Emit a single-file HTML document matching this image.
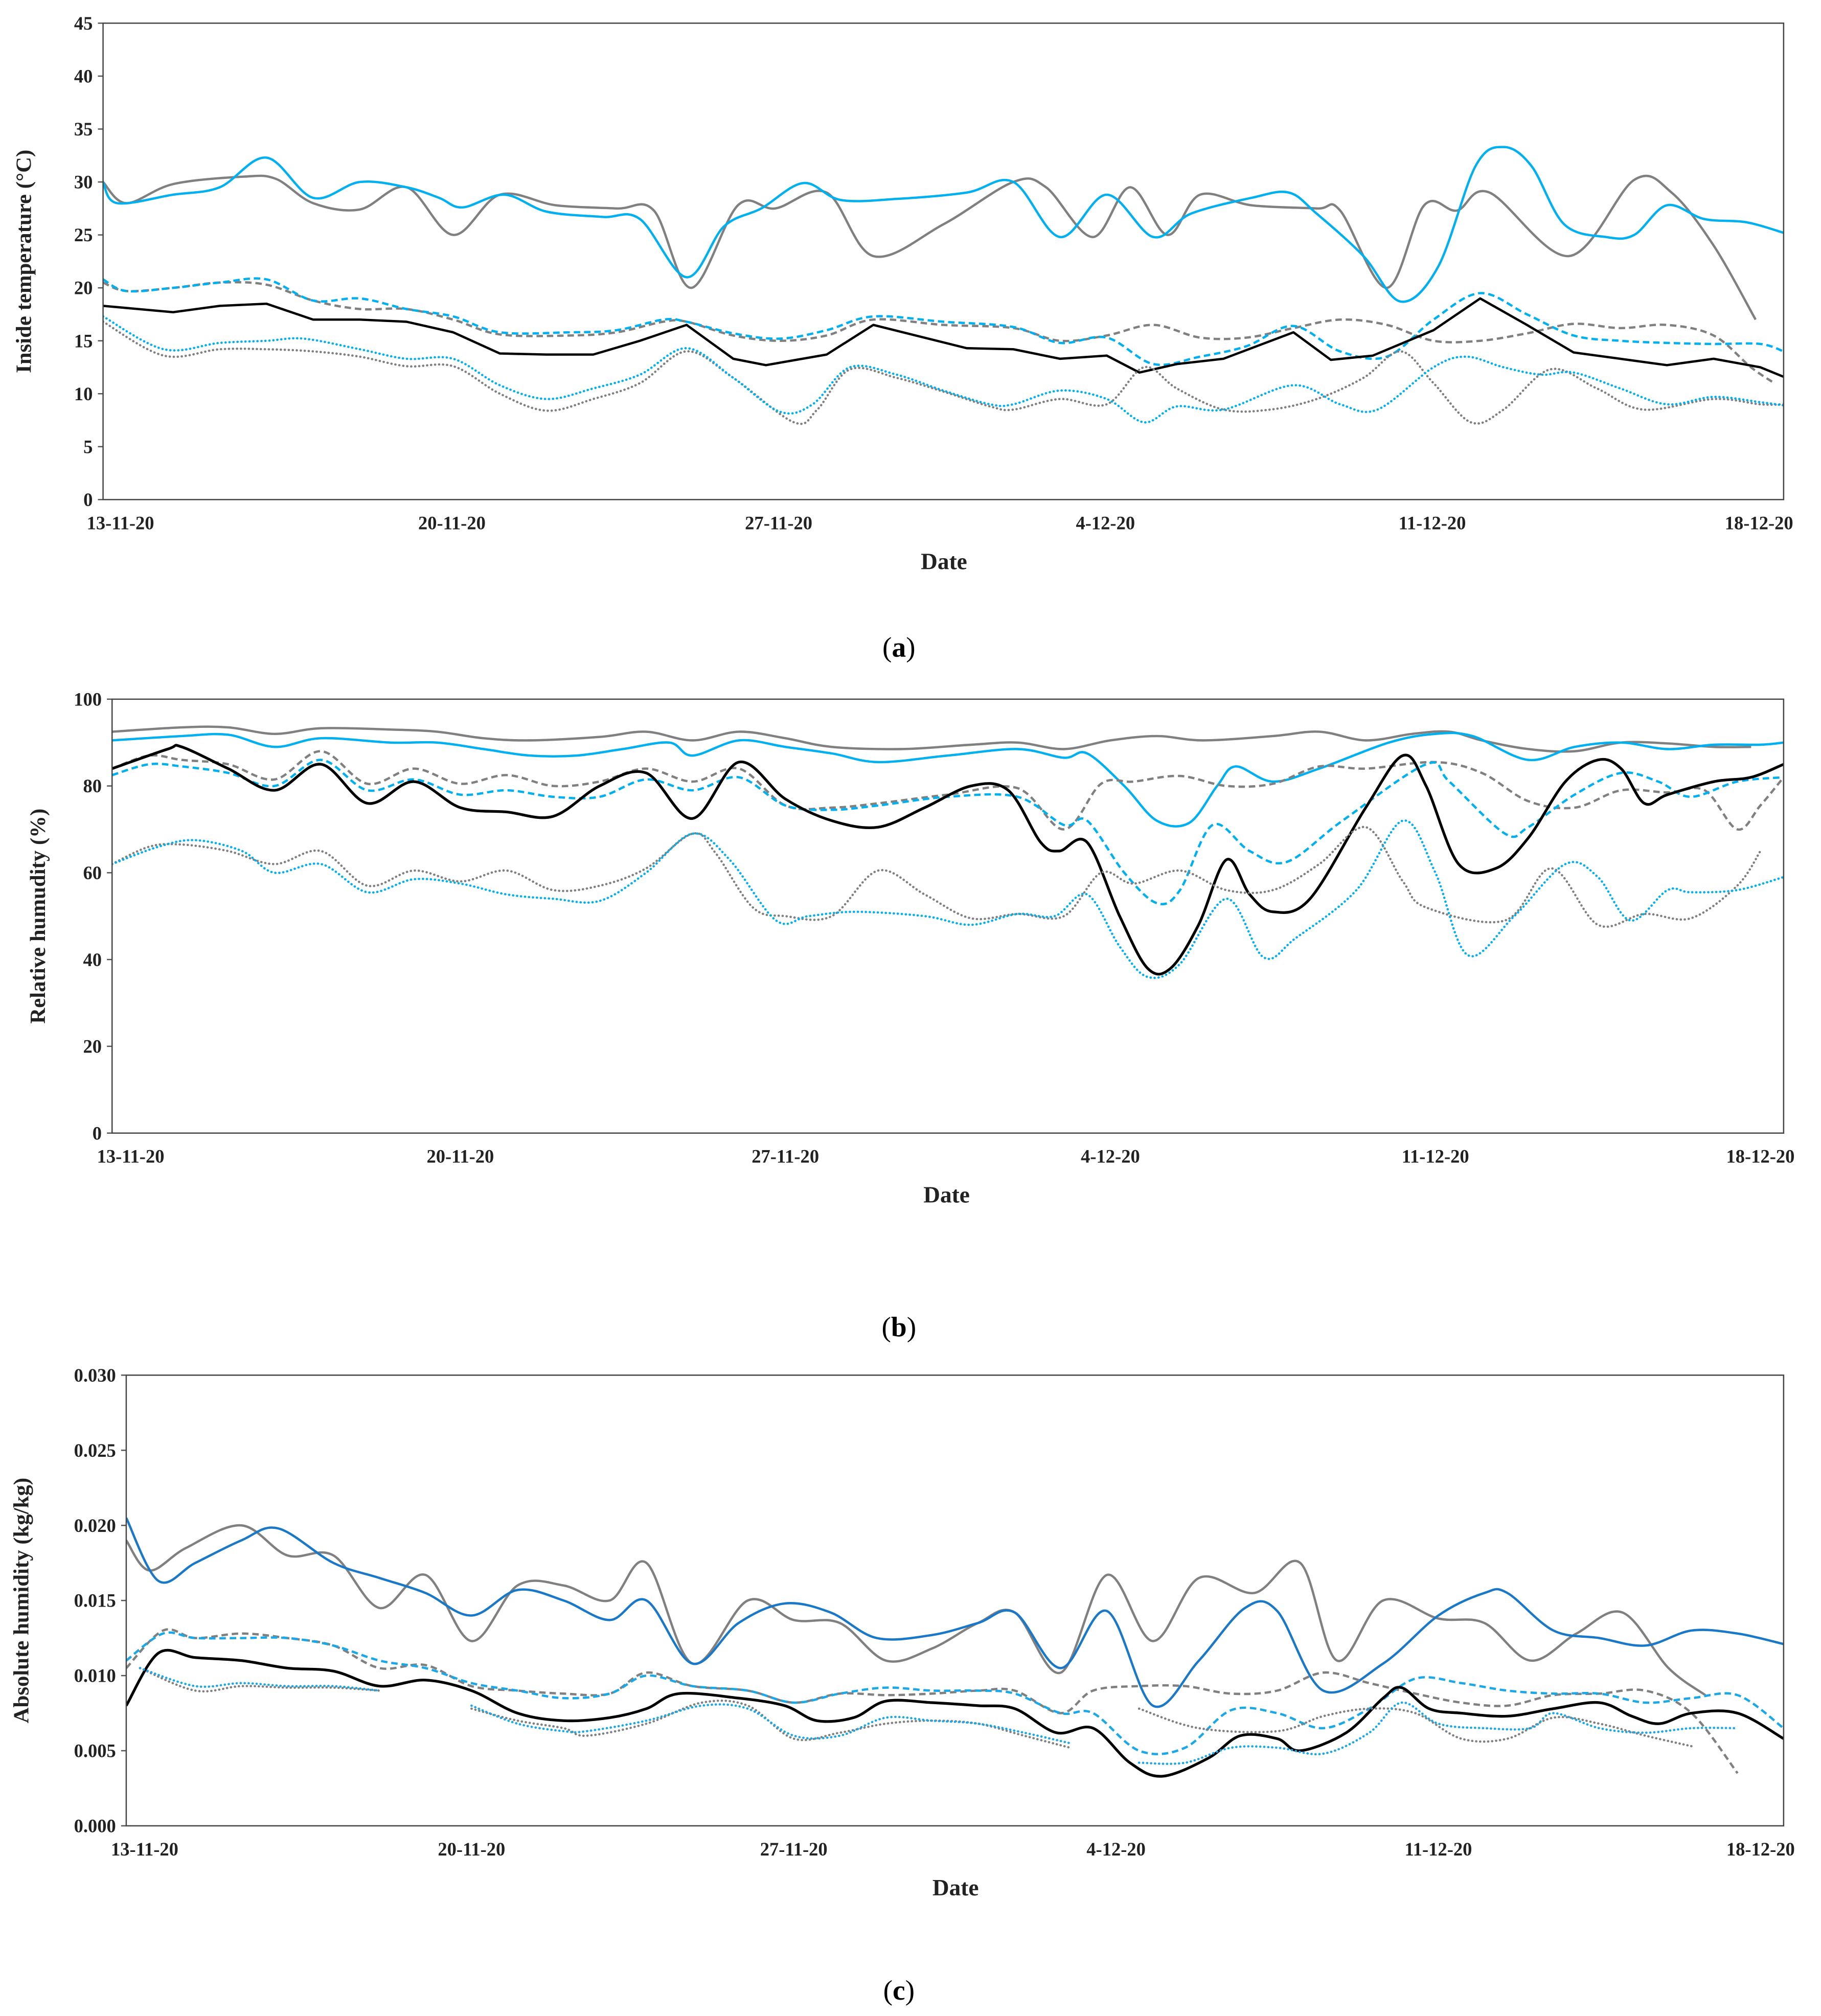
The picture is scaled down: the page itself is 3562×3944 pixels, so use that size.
<!DOCTYPE html>
<html><head><meta charset="utf-8">
<style>
html,body{margin:0;padding:0;background:#fff;}
svg{display:block;}
text{font-family:"Liberation Serif",serif;}
</style></head>
<body>
<svg id="fig" width="3562" height="3944" viewBox="0 0 1414 1565.7" xmlns="http://www.w3.org/2000/svg"></svg>
<script>
// ===== Panel (a) data: [day, value] =====
const aGraySolid=[[0,30],[0.5,28],[1.5,29.8],[3,30.5],[3.7,30.3],[4.5,28],[5.5,27.4],[6.5,29.5],[7.5,25],[8.5,28.8],[9.7,27.8],[11,27.5],[11.8,27.3],[12.6,20],[13.6,27.8],[14.4,27.5],[15.5,29],[16.5,23],[18,26],[19.5,30],[20.2,29.5],[21.2,24.8],[22,29.5],[22.8,25],[23.5,28.8],[24.6,27.8],[26,27.5],[26.5,27.3],[27.5,20],[28.3,27.8],[29,27.3],[29.7,29],[31.4,23],[32.8,30.2],[33.6,29],[34.5,24],[35.4,17]];
const aBlueSolid=[[0,30],[0.3,28],[1.5,28.8],[2.5,29.5],[3.5,32.3],[4.5,28.5],[5.5,30],[6.5,29.5],[7.2,28.5],[7.7,27.6],[8.6,28.8],[9.5,27.2],[10.7,26.7],[11.5,26.5],[12.5,21],[13.3,25.8],[14.1,27.5],[15,29.9],[15.8,28.3],[17,28.4],[18.5,29],[19.5,30],[20.5,24.8],[21.5,28.8],[22.5,24.8],[23.3,27],[24.6,28.5],[25.4,29],[26,27],[27,23],[27.8,18.7],[28.6,22],[29.4,31.5],[30,33.3],[30.6,31.5],[31.3,26],[32.2,24.8],[32.8,25],[33.5,27.8],[34.3,26.5],[35.2,26.2],[36,25.2]];
const aGrayDash=[[0,20.5],[0.5,19.7],[1.5,20],[2.5,20.5],[3.5,20.3],[4.5,18.8],[5.5,18],[6.5,18],[7.5,17],[8.5,15.6],[10,15.5],[11,15.8],[12,16.8],[12.5,16.8],[13.5,15.5],[14.5,15],[15.5,15.5],[16.5,17],[18,16.5],[19.5,16.2],[20.5,15],[21.5,15.5],[22.5,16.5],[23.5,15.3],[24.5,15.3],[25.5,16.2],[26.5,17],[27.5,16.5],[28.5,15],[29.5,15],[30.5,15.7],[31.5,16.6],[32.5,16.2],[33.5,16.5],[34.5,15.5],[35.3,12.5],[35.8,11]];
const aBlueDash=[[0,20.8],[0.5,19.7],[1.5,20],[2.5,20.5],[3.5,20.8],[4.5,18.8],[5.5,19],[6.5,18],[7.5,17.3],[8.5,15.8],[10,15.8],[11,16],[12,17],[12.5,16.8],[13.5,15.7],[14.5,15.2],[15.5,16],[16.5,17.3],[18,16.8],[19.5,16.3],[20.5,14.8],[21.5,15.3],[22.5,12.8],[23.5,13.5],[24.5,14.5],[25.5,16.4],[26.5,14],[27.5,13.5],[28.5,17],[29.5,19.5],[30.5,17.5],[31.5,15.5],[32.5,15],[33.5,14.8],[34.5,14.7],[35.5,14.7],[36,14]];
const aBlack=[[0,18.3],[1.5,17.7],[2.5,18.3],[3.5,18.5],[4.5,17],[5.5,17],[6.5,16.8],[7.5,15.8],[8.5,13.8],[9.5,13.7],[10.5,13.7],[11.5,15],[12.5,16.5],[13.5,13.3],[14.2,12.7],[15.5,13.7],[16.5,16.5],[17.5,15.4],[18.5,14.3],[19.5,14.2],[20.5,13.3],[21.5,13.6],[22.2,12],[23,12.8],[24,13.3],[25.5,15.8],[26.3,13.2],[27.2,13.6],[28.5,16],[29.5,19],[30.5,16.5],[31.5,13.9],[32.5,13.3],[33.5,12.7],[34.5,13.3],[35.5,12.5],[36,11.6]];
const aGrayDot=[[0,16.8],[1.3,13.6],[2.5,14.2],[3.5,14.2],[4.5,14],[5.5,13.5],[6.5,12.6],[7.5,12.6],[8.5,10],[9.5,8.4],[10.5,9.5],[11.5,11],[12.5,14],[13.5,11.5],[14.8,7.3],[15.3,8.5],[16,12.3],[17,11.5],[18,10.2],[19,8.8],[19.5,8.5],[20.5,9.5],[21.5,9],[22.3,12.5],[23,10.5],[24,8.5],[25,8.5],[26,9.5],[27,11.5],[27.8,14],[28.5,11],[29.3,7.3],[30,8.5],[31,12.3],[32,10.5],[33,8.5],[34.5,9.5],[35.5,9],[36,9]];
const aBlueDot=[[0,17.3],[1.3,14.2],[2.5,14.8],[3.5,15],[4.3,15.2],[5.5,14.2],[6.5,13.3],[7.5,13.3],[8.5,10.8],[9.5,9.5],[10.5,10.5],[11.5,11.8],[12.5,14.3],[13.5,11.5],[14.5,8.3],[15.2,9],[16,12.5],[17,11.8],[18,10.3],[19,9],[19.5,9],[20.5,10.3],[21.5,9.5],[22.3,7.3],[23,8.8],[24,8.5],[25.5,10.8],[26.5,9],[27.3,8.5],[28.5,12.5],[29.2,13.5],[30,12.5],[30.8,11.8],[31.5,12],[32.5,10.5],[33.5,9],[34.5,9.7],[35.5,9.2],[36,8.9]];
const aTicksY=[0,5,10,15,20,25,30,35,40,45];
// ===== Panel (b) data =====
const bGraySolid=[[0,92.5],[1.5,93.5],[2.5,93.5],[3.5,92],[4.5,93.3],[6,93],[7,92.5],[8,91],[9,90.5],[10.5,91.3],[11.5,92.5],[12.5,90.5],[13.5,92.5],[14.5,91],[15.5,89],[17,88.5],[18.5,89.5],[19.5,90],[20.5,88.5],[21.5,90.5],[22.5,91.5],[23.5,90.5],[25,91.5],[26,92.5],[27,90.5],[28,92],[28.8,92.5],[29.5,90.5],[30.5,88.5],[31.5,88],[32.5,90],[33.5,89.8],[34.5,89],[35.3,89]];
const bBlueSolid=[[0,90.5],[1.5,91.5],[2.5,91.8],[3.5,89],[4.5,91],[6,90],[7,90],[8,88.5],[9,87],[10,87],[11,88.5],[12,90],[12.5,87],[13.5,90.5],[14.5,89],[15.5,87.5],[16.5,85.5],[18,87],[19.5,88.5],[20.5,86.5],[21,87.5],[21.8,80],[22.5,72],[23.2,71.5],[23.8,80],[24.2,84.5],[25,81],[26,84],[27.5,90],[28.5,92],[29.3,91.5],[30.5,86],[31.5,89],[32.5,90],[33.5,88.5],[34.5,89.5],[35.5,89.5],[36,90]];
const bGrayDash=[[0,84],[0.8,87],[1.5,86],[2.5,85],[3.5,81.5],[4.5,88],[5.5,80.5],[6.5,84],[7.5,80.5],[8.5,82.5],[9.5,80],[10.5,81],[11.5,84],[12.5,81],[13.5,84],[14.5,75.5],[15.5,75],[16.5,76],[18,78],[19.5,79.5],[20.5,70],[21.3,80.5],[22,81],[23,82.3],[24,80],[25,80.5],[26,84.5],[27,84],[28.5,85.5],[29.5,83],[30.5,76.5],[31.5,75],[32.5,79],[33.5,78.5],[34.3,79],[35,70],[35.5,75.5],[36,82]];
const bBlueDash=[[0,82.5],[0.8,85],[1.5,84.5],[2.5,83],[3.5,80],[4.5,86],[5.5,79],[6.5,81.5],[7.5,78],[8.5,79],[9.5,77.5],[10.5,77.5],[11.5,81.5],[12.5,79],[13.5,82],[14.5,75.5],[15.5,74.5],[16.5,75.5],[18,77.5],[19.5,77.5],[20.5,71],[21,72],[21.8,60],[22.5,53],[23,56],[23.7,71],[24.5,65],[25.3,62.5],[26.5,72],[28.3,85],[28.8,81],[30,69],[30.5,70.5],[31.5,78],[32.5,83],[33.3,81],[34,77.5],[35,81],[36,82]];
const bBlack=[[0,84],[1.2,88.5],[1.5,89],[2.5,84],[3.5,79],[4.5,85],[5.5,76],[6.5,81],[7.5,75],[8.5,74],[9.5,73],[10.5,80],[11.5,83],[12.5,72.5],[13.5,85.5],[14.5,77],[15.5,72],[16.5,70.5],[17.5,75],[18.5,80],[19.3,79],[20,67],[20.4,65],[21,67],[21.7,50],[22.3,38],[22.8,38],[23.4,48],[24,63],[24.5,55],[25,51],[25.8,54],[27,75],[27.8,87],[28.3,80],[29,62],[29.8,61],[30.5,68],[31.3,81],[32,86],[32.5,84],[33,76],[33.5,78],[34.5,81],[35.3,82],[36,85]];
const bGrayDot=[[0,62],[0.8,66],[1.5,66.5],[2.5,65],[3.5,62],[4.5,65],[5.5,57],[6.5,60.5],[7.5,58],[8.5,60.5],[9.5,56],[10.5,57],[11.5,61],[12.5,69],[13,64.5],[13.8,52],[14.5,50],[15.5,50],[16.5,60.5],[17.5,55],[18.5,49.5],[19.5,50.5],[20.5,50],[21.3,60],[22,57.5],[23,60.5],[24,56],[25,56],[26,62],[27,70.5],[27.8,58],[28.3,52],[30,49],[31,61],[32,48],[33,50.5],[34,49.5],[35,57],[35.5,65]];
const bBlueDot=[[0,62],[1,66],[1.8,67.5],[2.8,65],[3.5,60],[4.5,62],[5.5,55.5],[6.5,58.5],[7.5,57.5],[8.5,55],[9.5,54],[10.5,53.5],[11.5,60],[12.5,69],[13.3,63],[14.3,49],[15,50],[16,51],[17.5,50],[18.5,48],[19.5,50.5],[20.3,50],[21,55],[21.7,43],[22.3,36],[23,39],[24,54],[24.8,40.5],[25.5,45],[26.8,56],[27.8,72],[28.5,60],[29.2,41],[30.2,50],[31.3,62],[32,59],[32.7,49],[33.5,56],[34,55.5],[35,56],[36,59]];
const bTicksY=[0,20,40,60,80,100];
// ===== Panel (c) data =====
const cGraySolid=[[0,.019],[0.5,.017],[1.3,.0185],[2.5,.02],[3.5,.018],[4.5,.018],[5.5,.0145],[6.5,.0167],[7.5,.0123],[8.5,.016],[9.5,.016],[10.5,.015],[11.3,.0175],[12.3,.0108],[13.5,.015],[14.5,.0137],[15.5,.0135],[16.5,.011],[17.5,.0118],[18.5,.0135],[19.3,.0142],[20.3,.0102],[21.3,.0167],[22.3,.0123],[23.3,.0165],[24.5,.0155],[25.5,.0175],[26.3,.011],[27.3,.015],[28.5,.0138],[29.5,.0135],[30.5,.011],[31.5,.0128],[32.5,.0142],[33.5,.0105],[34.3,.0087]];
const cBlueSolid=[[0,.0205],[0.7,.0163],[1.5,.0175],[2.5,.019],[3.3,.0198],[4.5,.0175],[5.5,.0165],[6.5,.0155],[7.5,.014],[8.5,.0157],[9.5,.015],[10.5,.0137],[11.3,.015],[12.3,.0108],[13.3,.0135],[14.3,.0148],[15.3,.0142],[16.3,.0125],[17.5,.0127],[18.5,.0135],[19.3,.0142],[20.3,.0105],[21.3,.0143],[22.3,.008],[23.3,.011],[24.3,.0145],[25,.0143],[26,.009],[27.3,.0108],[28.5,.014],[29.5,.0155],[30,.0155],[31,.013],[32,.0125],[33,.012],[34,.013],[35,.0128],[36,.0121]];
const cGrayDash=[[0,.0105],[0.8,.013],[1.5,.0125],[2.5,.0128],[3.5,.0125],[4.5,.012],[5.5,.0105],[6.5,.0107],[7.5,.0093],[8.5,.009],[9.5,.0088],[10.5,.0088],[11.3,.0102],[12.3,.0093],[13.5,.009],[14.5,.0082],[15.5,.0088],[16.5,.0087],[17.5,.0088],[18.5,.009],[19.3,.009],[20.3,.0075],[21,.009],[22,.0093],[23,.0093],[24,.0088],[25,.009],[26,.0102],[27,.0095],[28,.0088],[29,.0082],[30,.008],[31,.0087],[32,.0088],[33,.009],[34,.0075],[35,.0035]];
const cBlueDash=[[0,.011],[0.8,.0128],[1.5,.0125],[2.5,.0125],[3.5,.0125],[4.5,.012],[5.5,.011],[6.5,.0105],[7.5,.0095],[8.5,.009],[9.5,.0085],[10.5,.0088],[11.3,.01],[12.3,.0093],[13.5,.009],[14.5,.0082],[15.5,.0088],[16.5,.0092],[17.5,.009],[18.5,.009],[19.3,.0088],[20.3,.0075],[21,.0075],[22,.005],[23,.0052],[24,.0077],[25,.0075],[26,.0065],[27,.0078],[28,.0098],[29,.0095],[30,.009],[31,.0088],[32,.0088],[33,.0082],[34,.0085],[35,.0087],[36,.0065]];
const cBlack=[[0,.008],[0.7,.0115],[1.5,.0112],[2.5,.011],[3.5,.0105],[4.5,.0103],[5.5,.0093],[6.5,.0097],[7.5,.009],[8.5,.0075],[9.5,.007],[10.5,.0072],[11.3,.0078],[12,.0088],[13.3,.0085],[14.3,.008],[15,.007],[15.8,.0072],[16.5,.0083],[17.5,.0082],[18.5,.008],[19.3,.0078],[20.2,.0062],[21,.0065],[21.8,.0042],[22.5,.0033],[23.5,.0045],[24.2,.006],[25,.0058],[25.5,.005],[26.5,.0062],[27.3,.0085],[27.7,.0092],[28.3,.0078],[29,.0075],[30,.0073],[31,.0078],[32,.0082],[32.7,.0073],[33.3,.0068],[34,.0075],[35,.0075],[36,.0058]];
const cGrayDot=[[0.3,.0105],[1.5,.009],[2.5,.0093],[3.5,.0092],[4.5,.0092],[5.5,.009],null,[7.5,.0078],[8.5,.007],[9.5,.0065],[10,.006],[11.3,.0068],[12.5,.0082],[13.5,.008],[14.5,.0058],[15.5,.0062],[16.5,.0068],[17.5,.007],[18.5,.0068],[19.5,.006],[20.5,.0052],null,[22,.0078],[23.3,.0065],[25,.0063],[26,.0073],[27,.0078],[28,.0075],[29,.0058],[30,.0058],[31,.0072],[32,.0068],[33,.006],[34,.0053]];
const cBlueDot=[[0.3,.0105],[1.5,.0093],[2.5,.0095],[3.5,.0093],[4.5,.0093],[5.5,.009],null,[7.5,.008],[8.5,.0068],[9.5,.0063],[10,.0063],[11.3,.007],[12.5,.008],[13.5,.0078],[14.5,.006],[15.5,.006],[16.5,.0072],[17.5,.007],[18.5,.0068],[19.5,.0062],[20.5,.0055],null,[22,.0042],[23,.0042],[24,.0052],[25,.0052],[26,.0048],[27,.0062],[27.7,.0082],[28.5,.0068],[29.5,.0065],[30.5,.0065],[31,.0075],[32,.0065],[33,.0062],[34,.0065],[35,.0065]];
const cTicksY=[0,0.005,0.010,0.015,0.020,0.025,0.030];
const dateLabels=["13-11-20","20-11-20","27-11-20","4-12-20","11-12-20","18-12-20"];
const dateTickDays=[0.4,7.5,14.5,21.5,28.5,35.5];

const NS="http://www.w3.org/2000/svg";
const svg=document.getElementById('fig');
function mk(tag,attrs,parent){const e=document.createElementNS(NS,tag);for(const k in attrs)e.setAttribute(k,attrs[k]);(parent||svg).appendChild(e);return e;}

function smoothPath(pts){
  if(pts.length<2)return '';
  let d='M'+pts[0][0].toFixed(2)+','+pts[0][1].toFixed(2);
  for(let i=0;i<pts.length-1;i++){
    const p0=pts[i-1]||pts[i],p1=pts[i],p2=pts[i+1],p3=pts[i+2]||p2;
    const t=1/6;
    const c1x=p1[0]+(p2[0]-p0[0])*t,c1y=p1[1]+(p2[1]-p0[1])*t;
    const c2x=p2[0]-(p3[0]-p1[0])*t,c2y=p2[1]-(p3[1]-p1[1])*t;
    d+=' C'+c1x.toFixed(2)+','+c1y.toFixed(2)+' '+c2x.toFixed(2)+','+c2y.toFixed(2)+' '+p2[0].toFixed(2)+','+p2[1].toFixed(2);
  }
  return d;
}
function linePath(pts){return pts.map((p,i)=>(i?'L':'M')+p[0].toFixed(2)+','+p[1].toFixed(2)).join(' ');}

function panel(cfg){
  const g=mk('g',{});
  
  
  const {x0,x1,y0,y1,ymax}=cfg;
  const sx=d=>x0+d*(x1-x0)/36;
  const sy=v=>y1-v/ymax*(y1-y0);
  cfg.ticksY.forEach(v=>{
    const t=mk('text',{x:x0-8,y:sy(v)+5,'text-anchor':'end','font-size':14.5,'font-weight':'bold',fill:'#222'},g);
    t.textContent=cfg.fmt(v);
    
    
    mk('line',{x1:x0-4,x2:x0,y1:sy(v),y2:sy(v),stroke:'#555','stroke-width':1},g);
  });
  dateTickDays.forEach((d,i)=>{
    const t=mk('text',{x:sx(d)+cfg.lblShift,y:y1+23,'text-anchor':'middle','font-size':14.5,'font-weight':'bold',fill:'#222'},g);
    t.textContent=dateLabels[i];
    
    
  });
  const clipId='clip'+cfg.name;
  const cp=mk('clipPath',{id:clipId},g);
  mk('rect',{x:x0,y:y0-2,width:x1-x0,height:y1-y0+4},cp);
  const sg=mk('g',{'clip-path':'url(#'+clipId+')'},g);
  cfg.series.forEach(s=>{
    const segs=[[]];
    s.data.forEach(p=>{if(p===null)segs.push([]);else segs[segs.length-1].push([sx(p[0]),sy(p[1])]);});
    segs.forEach(seg=>{
      const path=mk('path',{d:s.straight?linePath(seg):smoothPath(seg),fill:'none',stroke:s.color,'stroke-width':s.w||1.8,'stroke-linejoin':'round','stroke-linecap':s.dash==='dot'?'round':'butt'},sg);
      if(s.dash==='dash')path.setAttribute('stroke-dasharray','5,3');
      if(s.dash==='dot')path.setAttribute('stroke-dasharray','0.1,3');
      
      
    });
  });
  const fr=mk('rect',{x:x0,y:y0,width:x1-x0,height:y1-y0,fill:'none',stroke:'#444','stroke-width':1},g);
  
  
  const yt=mk('text',{x:cfg.ytx,y:(y0+y1)/2,transform:'rotate(-90 '+cfg.ytx+' '+((y0+y1)/2)+')','text-anchor':'middle','font-size':17,'font-weight':'bold',fill:'#222'},g);
  yt.textContent=cfg.ytitle;
  
  
  const xt=mk('text',{x:cfg.xtx,y:y1+54,'text-anchor':'middle','font-size':18,'font-weight':'bold',fill:'#222'},g);
  xt.textContent='Date';
  
  
  const cap=mk('text',{x:698,y:cfg.capY,'text-anchor':'middle','font-size':22,fill:'#000'},g);
  cap.innerHTML='(<tspan font-weight="bold">'+cfg.cap+'</tspan>)';
  
  
}
const GRAY='#808080',BLUE='#00b0f0',BLK='#000';
panel({name:'panel-a-temperature',x0:80,x1:1385,y0:18,y1:388,ymax:45,ticksY:aTicksY,fmt:v=>String(v),lblShift:-1,
  ytx:24,ytitle:'Inside temperature (°C)',xtx:733,capY:510,cap:'a',
  series:[
   {name:'line-a-gray-solid',data:aGraySolid,color:GRAY},
   {name:'line-a-blue-solid',data:aBlueSolid,color:BLUE},
   {name:'line-a-gray-dash',data:aGrayDash,color:GRAY,dash:'dash'},
   {name:'line-a-blue-dash',data:aBlueDash,color:BLUE,dash:'dash'},
   {name:'line-a-black',data:aBlack,color:BLK,straight:true},
   {name:'line-a-gray-dot',data:aGrayDot,color:GRAY,dash:'dot'},
   {name:'line-a-blue-dot',data:aBlueDot,color:BLUE,dash:'dot'}]});
panel({name:'panel-b-relative-humidity',x0:87,x1:1385,y0:543,y1:880,ymax:100,ticksY:bTicksY,fmt:v=>String(v),lblShift:0,
  ytx:35,ytitle:'Relative humudity (%)',xtx:735,capY:1038,cap:'b',
  series:[
   {name:'line-b-gray-solid',data:bGraySolid,color:GRAY},
   {name:'line-b-blue-solid',data:bBlueSolid,color:BLUE},
   {name:'line-b-gray-dash',data:bGrayDash,color:GRAY,dash:'dash'},
   {name:'line-b-blue-dash',data:bBlueDash,color:BLUE,dash:'dash'},
   {name:'line-b-black',data:bBlack,color:BLK,w:2.1},
   {name:'line-b-gray-dot',data:bGrayDot,color:GRAY,dash:'dot'},
   {name:'line-b-blue-dot',data:bBlueDot,color:BLUE,dash:'dot'}]});
panel({name:'panel-c-absolute-humidity',x0:98,x1:1385,y0:1068,y1:1418,ymax:0.03,ticksY:cTicksY,fmt:v=>v.toFixed(3),lblShift:0,
  ytx:22,ytitle:'Absolute humidity (kg/kg)',xtx:742,capY:1553,cap:'c',
  series:[
   {name:'line-c-gray-solid',data:cGraySolid,color:GRAY},
   {name:'line-c-blue-solid',data:cBlueSolid,color:'#1a78c8'},
   {name:'line-c-gray-dash',data:cGrayDash,color:GRAY,dash:'dash'},
   {name:'line-c-blue-dash',data:cBlueDash,color:'#1aa8e8',dash:'dash'},
   {name:'line-c-black',data:cBlack,color:BLK,w:2.1},
   {name:'line-c-gray-dot',data:cGrayDot,color:GRAY,dash:'dot'},
   {name:'line-c-blue-dot',data:cBlueDot,color:'#1aa8e8',dash:'dot'}]});
</script>
</body></html>
